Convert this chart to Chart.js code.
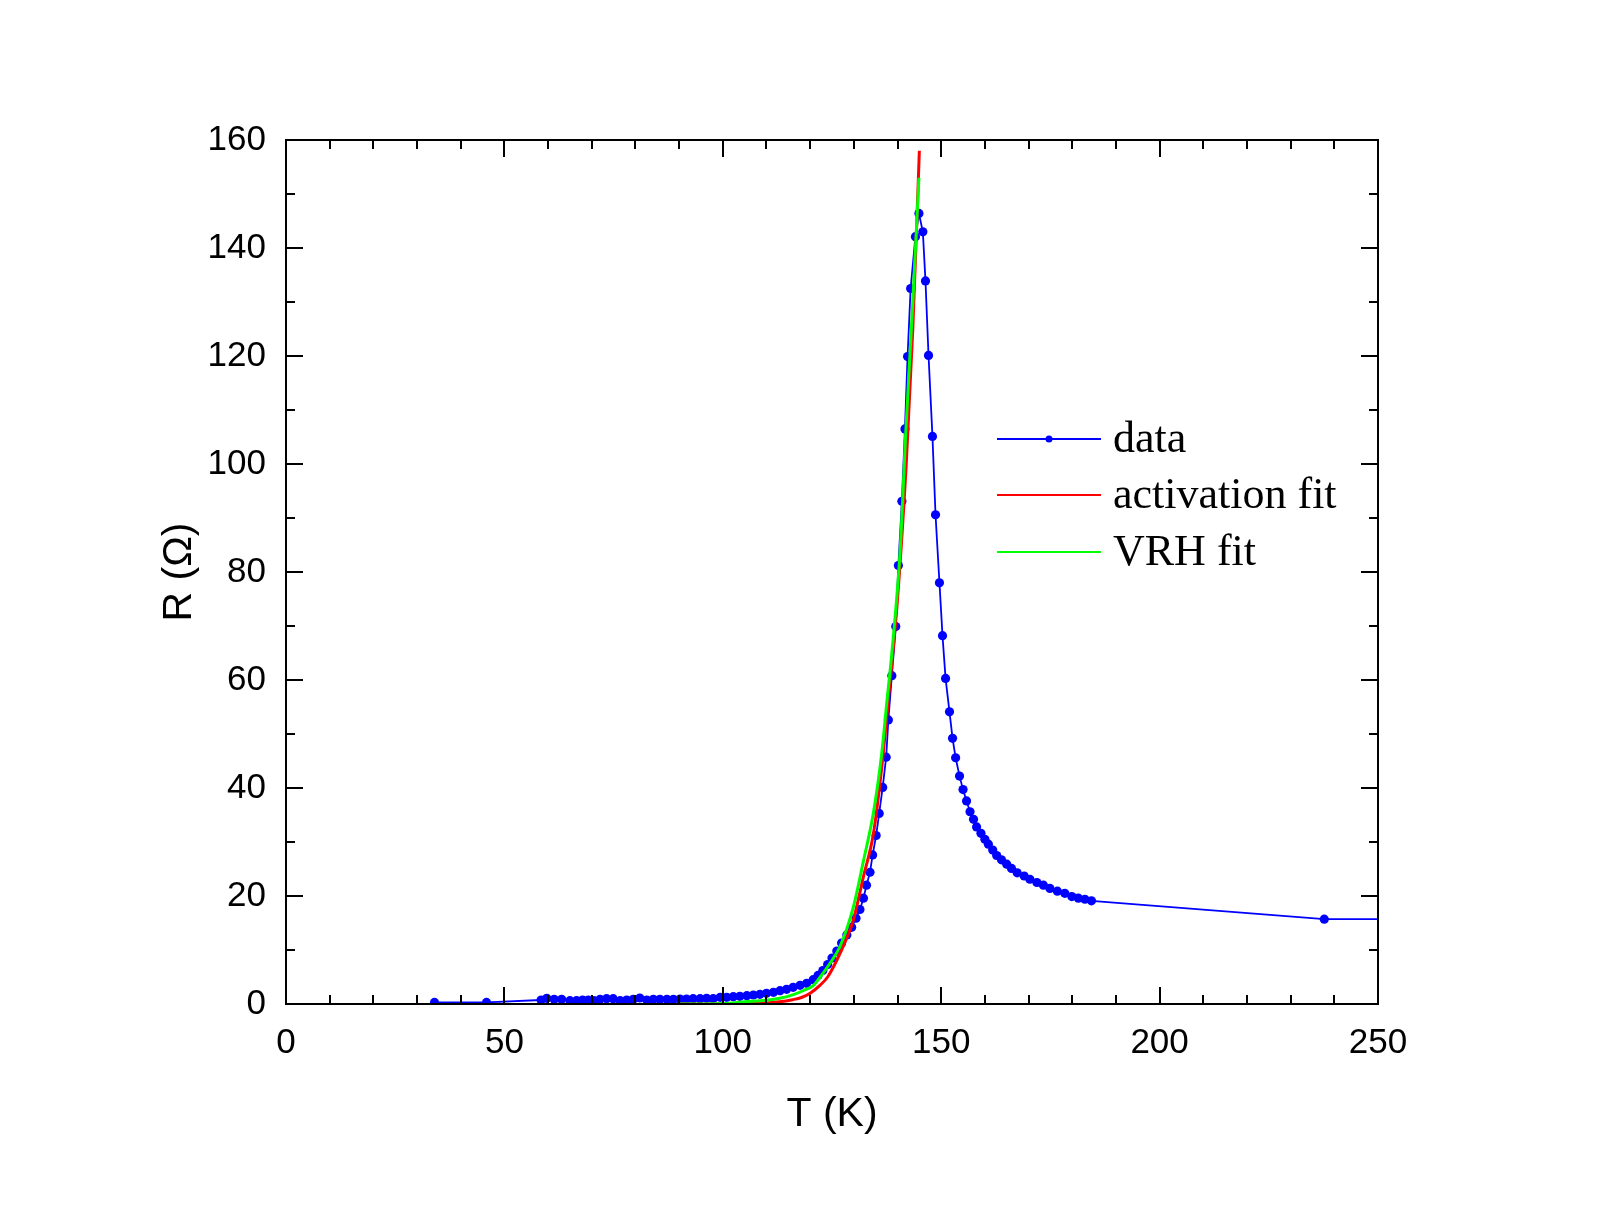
<!DOCTYPE html>
<html lang="en">
<head>
  <meta charset="UTF-8">
  <title>R vs T</title>
  <script src="https://cdn.jsdelivr.net/npm/chart.js"></script>
  <style>
    html, body { margin: 0; padding: 0; background: #fff; }
    #wrap { width: 1600px; height: 1205px; }
  </style>
</head>
<body>
  <div id="wrap"><canvas id="grafico" width="1600" height="1205"></canvas></div>

  <script>
    // measured data, T (K) and R (ohm)
    const dataT = [34.0, 45.9, 58.4, 59.7, 61.4, 63.1, 65.0, 66.5, 67.9, 69.2, 70.5, 71.9, 73.4, 74.9, 76.5, 78.0,
      79.5, 81.0, 82.6, 84.1, 85.6, 87.2, 88.7, 90.2, 91.7, 93.2, 94.8, 96.3, 97.8, 99.4, 100.9, 102.4, 103.9,
      105.5, 107.0, 108.5, 110.0, 111.6, 113.1, 114.6, 116.1, 117.7, 119.2, 120.7, 121.8, 122.9, 124.0, 125.0,
      126.1, 127.2, 128.4, 129.5, 130.5, 131.4, 132.2, 132.9, 133.7, 134.3, 135.1, 135.8, 136.6, 137.4, 137.9,
      138.7, 139.6, 140.2, 141.0, 141.7, 142.3, 143.0, 144.1, 144.9, 145.8, 146.4, 147.1, 148.0, 148.7, 149.6,
      150.3, 151.0, 151.9, 152.6, 153.3, 154.2, 155.0, 155.8, 156.6, 157.4, 158.1, 159.1, 160.0, 160.8, 161.8,
      162.7, 163.8, 165.0, 166.1, 167.4, 169.0, 170.3, 171.9, 173.4, 174.9, 176.6, 178.3, 179.9, 181.4, 182.9,
      184.4, 237.7, 260.0];
    const dataR = [0.3, 0.3, 0.74, 1.05, 0.86, 0.86, 0.62, 0.62, 0.74, 0.74, 0.62, 0.86, 0.99, 0.99, 0.62, 0.74,
      0.86, 1.11, 0.74, 0.86, 0.86, 0.86, 0.86, 0.93, 0.93, 0.99, 0.99, 1.05, 0.99, 1.23, 1.23, 1.36, 1.42,
      1.54, 1.67, 1.79, 1.98, 2.16, 2.47, 2.72, 3.09, 3.46, 3.83, 4.5, 5.3, 6.2, 7.3, 8.5,
      9.8, 11.3, 12.8, 14.2, 15.9, 17.5, 19.6, 22.0, 24.4, 27.6, 31.2, 35.3, 40.1, 45.7, 52.6,
      60.8, 69.9, 81.2, 93.1, 106.5, 119.9, 132.5, 142.1, 146.4, 143.0, 133.9, 120.1, 105.1, 90.6, 78.0,
      68.2, 60.3, 54.1, 49.2, 45.6, 42.2, 39.7, 37.6, 35.6, 34.2, 32.8, 31.6, 30.5, 29.6, 28.5,
      27.5, 26.7, 25.9, 25.1, 24.3, 23.7, 23.1, 22.5, 22.0, 21.4, 20.9, 20.5, 19.9, 19.6, 19.4,
      19.1, 15.7, 15.7];

    // activation fit (red)
    const actT = [90, 100, 105, 110, 113, 116, 118, 120, 122.3, 124, 126.1, 128, 129.9, 132.2, 134.5, 136.4,
      137.9, 140, 142, 143.5, 145];
    const actR = [0, 0.02, 0.07, 0.2, 0.4, 0.8, 1.2, 2.0, 3.5, 5.0, 8.1, 11.5, 15.6, 23.6, 31.6, 43.9,
      56.3, 75, 100, 125, 158];

    // VRH fit (green)
    const vrhT = [90, 100, 105, 110, 113, 116, 118.5, 120.7, 122.3, 124.5, 126.8, 129.9, 132.2, 134.5, 136.4,
      137.5, 138.7, 140.6, 141.9, 143.5, 144.9];
    const vrhR = [0, 0.1, 0.4, 0.7, 1.05, 1.7, 2.5, 3.4, 5.0, 7.5, 10.6, 18.0, 26.5, 35.5, 46.5,
      55.5, 65, 84, 106, 130, 153];

    const punti = (xs, ys) => xs.map((t, i) => ({ x: t, y: ys[i] }));

    // frame + inward ticks on all four sides
    const cornice = {
      id: 'cornice',
      afterDatasetsDraw(chart) {
        const { ctx, chartArea: a, scales: { x, y } } = chart;
        ctx.save();
        ctx.strokeStyle = '#000';
        ctx.lineWidth = 2;
        ctx.beginPath();
        x.ticks.forEach(t => {
          if (t.value <= x.min || t.value >= x.max) return;
          const px = Math.round(x.getPixelForValue(t.value));
          const len = t.value % 50 === 0 ? 17 : 9;
          ctx.moveTo(px, a.bottom); ctx.lineTo(px, a.bottom - len);
          ctx.moveTo(px, a.top); ctx.lineTo(px, a.top + len);
        });
        y.ticks.forEach(t => {
          if (t.value <= y.min || t.value >= y.max) return;
          const py = Math.round(y.getPixelForValue(t.value));
          const len = t.value % 20 === 0 ? 17 : 9;
          ctx.moveTo(a.left, py); ctx.lineTo(a.left + len, py);
          ctx.moveTo(a.right, py); ctx.lineTo(a.right - len, py);
        });
        ctx.stroke();
        ctx.strokeRect(a.left, a.top, a.right - a.left, a.bottom - a.top);
        ctx.restore();
      }
    };

    // legend inside the plot
    const legenda = {
      id: 'legenda',
      afterDraw(chart) {
        const ctx = chart.ctx;
        const x0 = 997, x1 = 1101, xt = 1113;
        const righe = [439, 495, 552];
        ctx.save();
        ctx.font = '44px "Liberation Serif", "Times New Roman", serif';
        ctx.textBaseline = 'middle';
        chart.data.datasets.forEach((ds, i) => {
          const yy = righe[i];
          ctx.strokeStyle = ds.borderColor;
          ctx.lineWidth = Math.min(ds.borderWidth, 2.2);
          ctx.beginPath();
          ctx.moveTo(x0, yy); ctx.lineTo(x1, yy);
          ctx.stroke();
          if (ds.pointRadius > 0) {
            ctx.fillStyle = ds.pointBackgroundColor;
            ctx.beginPath();
            ctx.arc((x0 + x1) / 2, yy, 3.5, 0, Math.PI * 2);
            ctx.fill();
          }
          ctx.fillStyle = '#000';
          ctx.fillText(ds.label, xt, yy + 1);
        });
        ctx.restore();
      }
    };

    const fontTick = { family: '"Liberation Sans", Arial, sans-serif', size: 35 };
    const fontTitolo = { family: '"Liberation Sans", Arial, sans-serif', size: 41 };

    new Chart(document.getElementById('grafico'), {
      type: 'scatter',
      data: {
        datasets: [{
          label: 'data',
          data: punti(dataT, dataR),
          showLine: true,
          borderColor: '#0000ff',
          backgroundColor: '#0000ff',
          pointBackgroundColor: '#0000ff',
          pointBorderWidth: 0,
          pointRadius: 4.6,
          borderWidth: 1.8,
          order: 3
        }, {
          label: 'activation fit',
          data: punti(actT, actR),
          showLine: true,
          borderColor: '#ff0000',
          pointRadius: 0,
          borderWidth: 3,
          cubicInterpolationMode: 'monotone',
          order: 2
        }, {
          label: 'VRH fit',
          data: punti(vrhT, vrhR),
          showLine: true,
          borderColor: '#00ff00',
          pointRadius: 0,
          borderWidth: 3,
          cubicInterpolationMode: 'monotone',
          order: 1
        }]
      },
      options: {
        responsive: false,
        animation: false,
        events: [],
        layout: { padding: { left: 0, top: 140, right: 222, bottom: 0 } },
        plugins: { legend: { display: false }, tooltip: { enabled: false } },
        scales: {
          x: {
            type: 'linear',
            min: 0, max: 250,
            afterFit: s => { s.height = 201; },
            grid: { display: false, drawTicks: false },
            border: { display: false },
            ticks: {
              stepSize: 10, autoSkip: false, maxRotation: 0,
              color: '#000', font: fontTick, padding: 18,
              callback: v => (v % 50 === 0 ? v : '')
            },
            title: { display: true, text: 'T (K)', color: '#000', font: fontTitolo, padding: { top: 0, bottom: 66 } }
          },
          y: {
            min: 0, max: 160,
            afterFit: s => { s.width = 286; },
            grid: { display: false, drawTicks: false },
            border: { display: false },
            ticks: {
              stepSize: 10, autoSkip: false,
              color: '#000', font: fontTick, padding: 20,
              callback: v => (v % 20 === 0 ? v : '')
            },
            title: { display: true, text: 'R (Ω)', color: '#000', font: fontTitolo, padding: { top: 155, bottom: 0 } }
          }
        }
      },
      plugins: [cornice, legenda]
    });
  </script>
</body>
</html>
